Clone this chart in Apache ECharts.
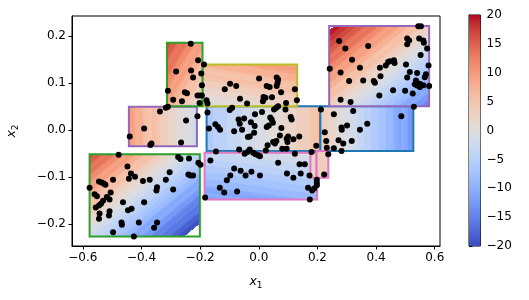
<!DOCTYPE html>
<html><head><meta charset="utf-8">
<script src="https://cdn.jsdelivr.net/npm/echarts@6/dist/echarts.min.js"></script>
<style>html,body{margin:0;padding:0;background:#fff}#c{width:529px;height:300px}</style>
</head><body><div id="c"></div>
<script>
// ---- tick labels ----
const xTicks = [-0.6, -0.4, -0.2, 0, 0.2, 0.4, 0.6];
const yTicks = [-0.2, -0.1, 0, 0.1, 0.2];
const cbarMin = -20, cbarMax = 20, cbarStep = 5;

// ---- scatter points (x1, x2) ----
const pointsX1 = [
-0.232,-0.207,-0.187,-0.282,-0.231,-0.224,-0.196,-0.194,-0.310,-0.252,
-0.245,-0.292,-0.262,-0.209,-0.201,-0.194,-0.202,-0.178,-0.175,-0.175,
-0.317,-0.310,-0.337,-0.209,-0.248,-0.391,-0.440,-0.370,-0.366,-0.265,
-0.478,-0.275,-0.267,-0.238,-0.206,-0.199,-0.448,-0.577,-0.545,-0.536,
-0.529,-0.523,-0.497,-0.436,-0.443,-0.422,-0.395,-0.372,-0.304,-0.317,
-0.240,-0.233,-0.224,-0.347,-0.349,-0.292,-0.505,-0.560,-0.552,-0.518,
-0.509,-0.531,-0.538,-0.545,-0.556,-0.463,-0.391,-0.434,-0.446,-0.509,
-0.511,-0.543,-0.545,-0.468,-0.467,-0.409,-0.347,-0.357,-0.497,-0.426,
-0.183,-0.165,
-0.116,-0.098,-0.077,-0.064,-0.040,0.001,0.027,0.037,0.061,0.066,
0.064,0.061,0.076,0.016,0.023,0.014,0.045,0.093,0.123,0.130,
-0.099,-0.091,-0.170,-0.148,-0.139,-0.132,-0.084,-0.069,-0.065,-0.050,
-0.057,-0.027,-0.013,-0.014,-0.016,0.011,0.039,0.044,0.048,0.034,
0.027,0.052,0.060,0.066,0.091,0.109,0.112,0.077,0.212,0.225,
-0.146,-0.067,-0.048,-0.039,-0.031,-0.019,-0.011,-0.002,0.004,-0.037,
-0.031,0.024,0.030,0.049,0.055,0.060,0.072,0.080,0.095,0.095,
0.098,0.100,0.118,0.138,0.123,0.066,0.139,0.157,0.096,0.118,
0.143,0.173,0.180,0.196,0.230,0.232,0.237,0.223,0.198,0.198,
0.198,0.168,0.182,0.189,0.174,-0.084,-0.062,-0.097,-0.109,-0.045,
-0.025,0.004,-0.133,-0.118,-0.074,
0.544,0.553,0.274,0.295,0.373,0.506,0.513,0.506,0.547,0.561,
0.563,0.574,0.552,0.318,0.242,0.279,0.345,0.308,0.356,0.392,
0.396,0.413,0.433,0.441,0.447,0.461,0.463,0.415,0.502,0.579,
0.515,0.540,0.570,0.566,0.506,0.536,0.532,0.540,0.549,0.549,
0.561,0.581,0.458,0.499,0.525,0.411,0.279,0.313,0.529,
0.256,0.322,0.486,0.301,0.282,0.283,0.345,0.370,0.272,0.288,
0.317,0.256,0.282
];
const pointsX2 = [
0.184,0.149,0.140,0.125,0.127,0.112,0.121,0.096,0.084,0.081,
0.079,0.065,0.062,0.074,0.074,0.074,0.058,0.064,0.057,0.038,
0.048,0.050,0.040,0.030,0.021,0.004,-0.013,-0.031,-0.028,-0.026,
-0.052,-0.057,-0.061,-0.060,-0.069,-0.073,-0.077,-0.122,-0.109,-0.111,
-0.113,-0.116,-0.105,-0.092,-0.103,-0.099,-0.108,-0.105,-0.089,-0.105,
-0.094,-0.096,-0.096,-0.121,-0.128,-0.126,-0.132,-0.136,-0.140,-0.142,
-0.147,-0.150,-0.156,-0.160,-0.164,-0.153,-0.153,-0.167,-0.170,-0.172,
-0.181,-0.177,-0.188,-0.196,-0.201,-0.196,-0.196,-0.207,-0.217,-0.226,
-0.143,-0.064,
0.087,0.099,0.094,0.067,0.057,0.110,0.094,0.092,0.112,0.108,
0.101,0.094,0.081,0.071,0.069,0.062,0.070,0.058,0.087,0.064,
0.043,0.048,0.004,0.013,0.007,0.001,-0.002,0.023,0.014,0.025,
0.001,0.017,0.034,0.009,-0.005,0.039,0.027,0.023,0.016,0.010,
0.007,0.044,0.048,0.051,0.044,0.028,0.023,0.005,0.044,-0.004,
-0.045,-0.041,-0.050,-0.046,-0.041,-0.048,-0.051,-0.053,-0.055,-0.014,
-0.013,-0.043,-0.032,-0.025,-0.028,-0.023,-0.011,-0.039,-0.039,-0.018,
-0.025,-0.013,-0.019,-0.013,-0.050,-0.069,-0.072,-0.072,-0.092,-0.101,
-0.092,-0.096,-0.046,-0.033,-0.023,-0.037,-0.051,-0.094,-0.105,-0.112,
-0.117,-0.122,-0.128,-0.124,-0.147,-0.081,-0.086,-0.096,-0.106,-0.096,
-0.088,-0.096,-0.122,-0.132,-0.130,
0.221,0.221,0.190,0.174,0.179,0.195,0.191,0.183,0.195,0.191,
0.186,0.174,0.160,0.150,0.131,0.123,0.133,0.105,0.106,0.105,
0.101,0.133,0.138,0.145,0.147,0.149,0.143,0.115,0.140,0.138,
0.124,0.122,0.119,0.113,0.112,0.106,0.098,0.095,0.099,0.092,
0.096,0.094,0.085,0.084,0.078,0.074,0.065,0.060,0.050,
0.034,0.041,0.030,0.010,0.006,0.001,0.001,0.014,-0.021,-0.028,
-0.023,-0.038,-0.044
];

// ---- local regions: bounds and model values at corners ----
const regionX1Min = [-0.178, 0.210, -0.185, 0.176, 0.197, -0.577, -0.443, -0.191, -0.313, 0.240];
const regionX1Max = [ 0.210, 0.527,  0.199, 0.197, 0.237, -0.201, -0.211,  0.131, -0.192, 0.581];
const regionX2Min = [-0.044,-0.044, -0.147,-0.101,-0.101, -0.226, -0.034,  0.051,  0.051, 0.051];
const regionX2Max = [ 0.051, 0.051, -0.048,-0.048,-0.044, -0.051,  0.050,  0.140,  0.186, 0.222];
const regionValBL = [-6,  4, -12, 1,   2.5, -2,   9, -1, 8,  3];
const regionValBR = [ 5,-13,  -9, 2,   3,  -23,  -2,  2, 0, -15];
const regionValTL = [-6,  4,  -3, 1.5, 3,   17,   9,  7, 17, 21];
// styles
const regionEdge = ['#1f77b4','#1f77b4','#e377c2','#e377c2','#e377c2','#2ca02c','#9467bd','#bcbd22','#2ca02c','#9467bd'];
const nBands = 30;

// coolwarm colormap
const CW = [[59,76,192],[68,90,204],[77,104,215],[87,117,225],[98,130,234],[108,142,241],[119,154,247],[130,165,251],[141,176,254],[152,185,255],[163,194,255],[174,201,253],[184,208,249],[194,213,244],[204,217,238],[213,219,230],[221,221,221],[229,216,209],[236,211,197],[241,204,185],[245,196,173],[247,187,160],[247,177,148],[247,166,135],[244,154,123],[241,141,111],[236,127,99],[229,112,88],[222,96,77],[213,80,66],[203,62,56],[192,40,47],[180,4,38]];
function cmap(t){
  t = Math.max(0, Math.min(1, t));
  const f = t*(CW.length-1), i = Math.min(Math.floor(f), CW.length-2), r = f-i;
  const c = CW[i].map((v,k)=>Math.round(v+(CW[i+1][k]-v)*r));
  return 'rgb('+c.join(',')+')';
}
const lo = -30, hi = 30;
function off(v){ return (v-lo)/(hi-lo); }
const bandStops = (function(){
  const s = [{offset:0,color:'#fff'},{offset:off(cbarMin),color:'#fff'}];
  const step = (cbarMax-cbarMin)/nBands;
  for (let k=0;k<nBands;k++){
    const a = cbarMin+k*step, b = a+step;
    const c = cmap(((a+b)/2 - cbarMin)/(cbarMax-cbarMin));
    s.push({offset:off(a),color:c},{offset:off(b),color:c});
  }
  s.push({offset:off(cbarMax),color:'#fff'},{offset:1,color:'#fff'});
  return s;
})();

const regionData = regionX1Min.map((v,i)=>[v, regionX1Max[i], regionX2Min[i], regionX2Max[i], regionValBL[i], regionValBR[i], regionValTL[i]]);

function renderRegion(params, api){
  const i = params.dataIndex;
  const x0=api.value(0), x1=api.value(1), y0=api.value(2), y1=api.value(3);
  const vBL=api.value(4), vBR=api.value(5), vTL=api.value(6);
  const pBL = api.coord([x0,y0]), pTR = api.coord([x1,y1]);
  const W = pTR[0]-pBL[0], H = pBL[1]-pTR[1];
  let gx = (vBR-vBL)/W, gy = -(vTL-vBL)/H;
  let g2 = gx*gx+gy*gy;
  if (g2 < 1e-10){ gx = 1e-5; gy = 0; g2 = 1e-10; }
  const A = [pBL[0]+gx*(lo-vBL)/g2, pBL[1]+gy*(lo-vBL)/g2];
  const B = [pBL[0]+gx*(hi-vBL)/g2, pBL[1]+gy*(hi-vBL)/g2];
  return {
    type:'rect',
    shape:{x:pBL[0], y:pTR[1], width:W, height:H},
    style:{fill:new echarts.graphic.LinearGradient(A[0],A[1],B[0],B[1],bandStops,true), stroke:regionEdge[i], lineWidth:2}
  };
}

function renderCbar(params, api){
  const pT = api.coord([0,cbarMax]), pB = api.coord([1,cbarMin]);
  const stops = CW.map((c,k)=>({offset:k/(CW.length-1), color:'rgb('+c.join(',')+')'}));
  return {type:'rect', shape:{x:pT[0], y:pT[1], width:pB[0]-pT[0], height:pB[1]-pT[1]},
    style:{fill:new echarts.graphic.LinearGradient(0,1,0,0,stops)}};
}

const FONT = 'DejaVu Sans';
const fmt1 = v => (v<0?'\u2212':'') + Math.abs(v).toFixed(1);
const lab = {color:'#000', fontFamily:FONT, fontSize:12};
const nameRich = {
  a:{fontStyle:'italic', fontFamily:FONT, fontSize:12.5, color:'#000'},
  b:{fontFamily:FONT, fontSize:9, color:'#000', padding:[7,0,0,0]}
};

const chart = echarts.init(document.getElementById('c'), null, {renderer:'canvas'});
chart.setOption({
  animation:false,
  grid:[
    {left:72, right:89, top:16, bottom:54, show:true, borderColor:'#000', borderWidth:1, backgroundColor:'transparent', containLabel:false, outerBoundsMode:'none'},
    {left:469, width:11.5, top:15, height:231, show:true, borderColor:'#000', borderWidth:1, containLabel:false, outerBoundsMode:'none'}
  ],
  xAxis:[
    {type:'value', gridIndex:0, min:-0.637, max:0.618, splitLine:{show:false},
     axisLine:{show:true, onZero:false, lineStyle:{color:'#000'}},
     axisTick:{show:true, customValues:xTicks, length:3.5, lineStyle:{color:'#000'}},
     axisLabel:Object.assign({customValues:xTicks, formatter:fmt1, margin:6}, lab),
     name:'{a|x}{b|1}', nameLocation:'middle', nameGap:28, nameTextStyle:{rich:nameRich}},
    {type:'value', gridIndex:1, min:0, max:1, show:false}
  ],
  yAxis:[
    {type:'value', gridIndex:0, min:-0.246, max:0.243, splitLine:{show:false},
     axisLine:{show:true, onZero:false, lineStyle:{color:'#000'}},
     axisTick:{show:true, customValues:yTicks, length:3.5, lineStyle:{color:'#000'}},
     axisLabel:Object.assign({customValues:yTicks, formatter:fmt1, margin:6}, lab),
     name:'{a|x}{b|2}', nameLocation:'middle', nameGap:52, nameRotate:90, nameTextStyle:{rich:nameRich}},
    {type:'value', gridIndex:1, position:'right', min:cbarMin, max:cbarMax, interval:cbarStep, splitLine:{show:false},
     axisLine:{show:true, lineStyle:{color:'#000'}},
     axisTick:{show:true, length:3.5, lineStyle:{color:'#000'}},
     axisLabel:Object.assign({formatter:v=>(v<0?'\u2212':'')+Math.abs(v), margin:6}, lab)}
  ],
  series:[
    {type:'custom', xAxisIndex:0, yAxisIndex:0, renderItem:renderRegion, data:regionData, z:1, silent:true},
    {type:'scatter', xAxisIndex:0, yAxisIndex:0, data:pointsX1.map((v,i)=>[v,pointsX2[i]]), symbolSize:6, itemStyle:{color:'#000', opacity:1}, z:5, silent:true},
    {type:'custom', xAxisIndex:1, yAxisIndex:1, renderItem:renderCbar, data:[[0,cbarMin]], z:1, silent:true}
  ]
});
</script></body></html>
